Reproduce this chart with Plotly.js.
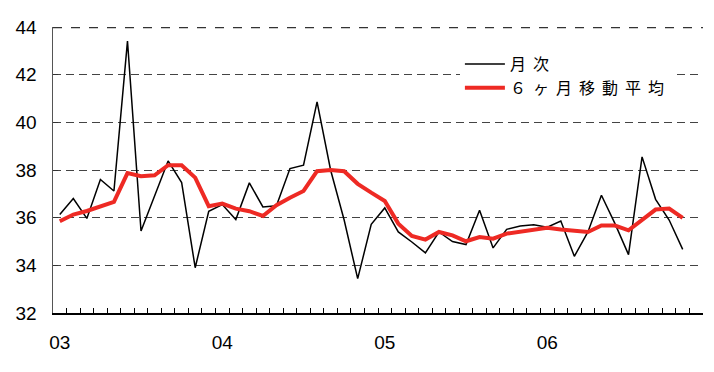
<!DOCTYPE html>
<html>
<head>
<meta charset="utf-8">
<script src="https://cdn.plot.ly/plotly-3.0.1.min.js"></script>
<style>
html,body{margin:0;padding:0;background:#fff;}
#chart{width:714px;height:372px;}
.legendtext{letter-spacing:7px;}
</style>
</head>
<body>
<div id="chart"></div>
<script>
// Year labels (2003-2006), 12 months each
const yearLabels = ['03', '04', '05', '06'];
// Monthly values (Jan 2003 - Nov 2006)
const monthly = [36.13, 36.8, 35.97, 37.6, 37.12, 43.41, 35.44, 36.9, 38.38, 37.47,
  33.9, 36.27, 36.55, 35.92, 37.46, 36.45, 36.5, 38.06, 38.2, 40.86,
  38.0, 35.9, 33.44, 35.72, 36.41, 35.4, 34.98, 34.52, 35.4, 35.0,
  34.87, 36.31, 34.73, 35.51, 35.65, 35.7, 35.6, 35.86, 34.38, 35.4,
  36.94, 35.75, 34.45, 38.55, 36.77, 35.9, 34.67];
// 6-month moving average
const movingAvg = [35.85, 36.13, 36.28, 36.48, 36.66, 37.87, 37.74, 37.78, 38.2, 38.2,
  37.68, 36.48, 36.59, 36.38, 36.27, 36.07, 36.52, 36.84, 37.12, 37.95,
  38.0, 37.95, 37.42, 37.05, 36.7, 35.75, 35.23, 35.08, 35.4, 35.26,
  35.01, 35.19, 35.12, 35.33, 35.4, 35.47, 35.58, 35.5, 35.44, 35.4,
  35.67, 35.67, 35.47, 35.89, 36.34, 36.38, 35.99];
const seriesNames = ['月次', '６ヶ月移動平均'];
const yTicks = [32, 34, 36, 38, 40, 42, 44];

// Build month categories and tick labels from the year labels
const months = [];
const monthText = [];
yearLabels.forEach(y => {
  for (let m = 1; m <= 12; m++) {
    months.push(y + '年' + m + '月');
    monthText.push(m === 1 ? y : '');
  }
});

const numFont = 'Liberation Sans Narrow, Liberation Sans, Arial, sans-serif';
const yMax = yTicks[yTicks.length - 1];

const traces = [
  {
    x: months.slice(0, monthly.length), y: monthly, type: 'scatter', mode: 'lines',
    name: seriesNames[0], line: {color: '#000000', width: 1.5}
  },
  {
    x: months.slice(0, movingAvg.length), y: movingAvg, type: 'scatter', mode: 'lines',
    name: seriesNames[1], line: {color: '#EE2A24', width: 4}
  }
];

const layout = {
  width: 714, height: 372,
  margin: {l: 53, r: 11, t: 27, b: 59},
  paper_bgcolor: '#ffffff', plot_bgcolor: '#ffffff',
  showlegend: true,
  legend: {
    x: 0.626, y: 0.93, xanchor: 'left', yanchor: 'top',
    bgcolor: '#ffffff', borderwidth: 0,
    font: {family: 'Noto Sans CJK JP, sans-serif', size: 16, color: '#000'},
    itemwidth: 40, tracegroupgap: 0
  },
  // dashed gridline along the top edge (y = 44)
  shapes: [{
    type: 'line', xref: 'paper', yref: 'paper', x0: 0, x1: 1, y0: 0.998, y1: 0.998,
    line: {color: '#333', width: 1.2, dash: 'dash'}, layer: 'above'
  }],
  xaxis: {
    type: 'category', categoryorder: 'array', categoryarray: months,
    range: [-0.5, months.length - 0.5],
    tickmode: 'array', tickvals: months, ticktext: monthText,
    tickson: 'boundaries', ticks: 'inside', ticklen: 5, tickwidth: 1, tickcolor: '#000',
    showgrid: false, zeroline: false,
    showline: true, linecolor: '#000', linewidth: 1.5,
    tickfont: {family: numFont, size: 19, color: '#000'},
    ticklabelstandoff: 12, tickangle: 0
  },
  yaxis: {
    range: [32, yMax], tickmode: 'array', tickvals: yTicks,
    ticks: 'inside', ticklen: 5, tickwidth: 1, tickcolor: '#333',
    showgrid: true, gridcolor: '#444', gridwidth: 1, griddash: '8px,5px',
    zeroline: false, showline: true, linecolor: '#555', linewidth: 1.5,
    tickfont: {family: numFont, size: 19, color: '#000'},
    ticklabelstandoff: 11
  }
};

Plotly.newPlot('chart', traces, layout, {displayModeBar: false, staticPlot: true});
</script>
</body>
</html>
